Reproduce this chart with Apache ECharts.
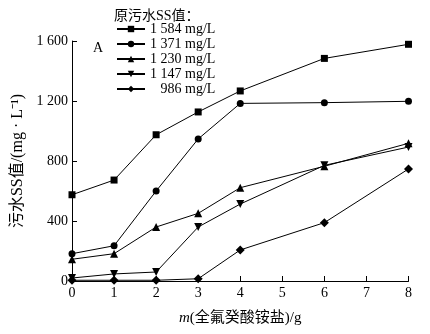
<!DOCTYPE html>
<html><head><meta charset="utf-8">
<script src="https://cdn.jsdelivr.net/npm/echarts@6/dist/echarts.min.js"></script>
<style>html,body{margin:0;padding:0;background:#fff}#c{width:430px;height:334px}</style>
</head><body><div id="c"></div>
<script>
var xValues = [0, 1, 2, 3, 4, 6, 8];
var s1584 = [575, 673, 975, 1127, 1267, 1484, 1578];
var s1371 = [182, 235, 600, 947, 1184, 1189, 1198];
var s1230 = [145, 182, 360, 451, 622, 765, 918];
var s1147 = [20, 47, 60, 360, 513, 771, 893];
var s986 = [5, 5, 5, 15, 207, 389, 747];
var seriesNames = ['1 584', '1 371', '1 230', '1 147', '986'];
var yTicks = [0, 400, 800, 1200, 1600];

var FONT = '"Liberation Serif", "Noto Sans CJK SC", serif';
function pts(v){ return xValues.map(function(x,i){ return [x, v[i]]; }); }
var defs = [
  {data: s1584, symbol: 'rect', size: 7, rot: 0},
  {data: s1371, symbol: 'circle', size: 7, rot: 0},
  {data: s1230, symbol: 'triangle', size: 8, rot: 0},
  {data: s1147, symbol: 'triangle', size: 8, rot: 180},
  {data: s986, symbol: 'diamond', size: 9, rot: 0}
];
var series = defs.map(function(d, i){
  return {
    name: seriesNames[i], type: 'line', data: pts(d.data),
    symbol: d.symbol, symbolSize: d.size, symbolRotate: d.rot,
    lineStyle: {color: '#000', width: 1}, itemStyle: {color: '#000'},
    animation: false, z: 5 - i
  };
});
function fmt(v){ var s = String(v); return s.length > 3 ? s.slice(0, s.length-3) + ' ' + s.slice(-3) : s; }

var chart = echarts.init(document.getElementById('c'), null, {renderer: 'canvas'});
chart.setOption({
  backgroundColor: '#fff',
  animation: false,
  textStyle: {fontFamily: FONT, color: '#000'},
  title: [
    {text: '原污水SS值：', left: 109, top: 4, textStyle: {fontFamily: FONT, fontSize: 14, fontWeight: 'normal', color: '#000'}},
    {text: 'A', left: 88, top: 36, textStyle: {fontFamily: FONT, fontSize: 14, fontWeight: 'normal', color: '#000'}}
  ],
  legend: {
    orient: 'vertical', left: 111, top: 17, itemWidth: 28, itemHeight: 8, itemGap: 1,
    data: seriesNames,
    formatter: function(n){ return (n.length < 5 ? '\u2007 ' : '') + n + ' mg/L'; },
    textStyle: {fontFamily: FONT, fontSize: 14, color: '#000', lineHeight: 14}
  },
  grid: {left: 72, right: 21.5, top: 41, bottom: 53},
  xAxis: {
    type: 'value', min: 0, max: 8, interval: 1,
    name: '{i|m}(全氟癸酸铵盐)/g', nameLocation: 'middle', nameGap: 30,
    nameTextStyle: {fontFamily: FONT, fontSize: 15, color: '#000', rich: {i: {fontStyle: 'italic', fontFamily: FONT, fontSize: 15}}},
    axisLine: {lineStyle: {color: '#000', width: 1}},
    axisTick: {inside: true, length: 5, lineStyle: {color: '#000'}},
    axisLabel: {fontFamily: FONT, fontSize: 14, color: '#000', margin: 5},
    splitLine: {show: false}
  },
  yAxis: {
    type: 'value', min: 0, max: 1600, interval: 400,
    name: '污水SS值/(mg · L⁻¹)', nameLocation: 'middle', nameGap: 37,
    nameTextStyle: {fontFamily: FONT, fontSize: 16, color: '#000'},
    axisLine: {show: true, lineStyle: {color: '#000', width: 1}},
    axisTick: {show: true, inside: true, length: 5, lineStyle: {color: '#000'}},
    axisLabel: {fontFamily: FONT, fontSize: 14, color: '#000', margin: 4, formatter: function(v){ return yTicks.indexOf(v) >= 0 ? fmt(v) : ''; }},
    splitLine: {show: false}
  },
  series: series
});
</script></body></html>
